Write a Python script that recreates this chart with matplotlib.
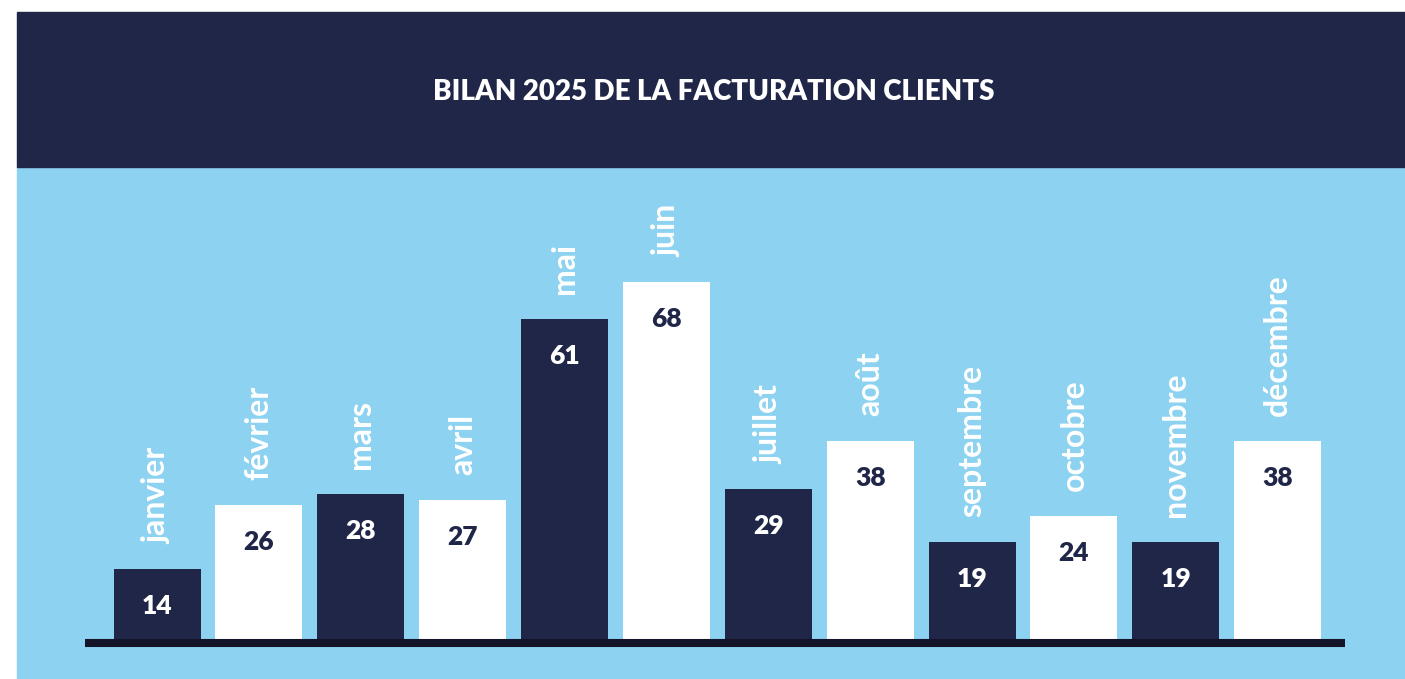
import matplotlib
matplotlib.use("Agg")
import matplotlib.pyplot as plt
from matplotlib.patches import Rectangle

# --- data ---
months = ["janvier", "février", "mars", "avril", "mai", "juin",
          "juillet", "août", "septembre", "octobre", "novembre", "décembre"]
values = [14, 26, 28, 27, 61, 68, 29, 38, 19, 24, 19, 38]
title = "BILAN 2025 DE LA FACTURATION CLIENTS"

NAVY = "#1f2648"
SKY = "#8dd2f0"
INK = "#13142a"
FONT = ["Lato", "DejaVu Sans"]

W, H = 1405, 679
fig = plt.figure(figsize=(W / 100, H / 100), dpi=100)

# background: navy header band + light blue plot area (behind the axes)
fig.patches.append(Rectangle((17 / W, 0), 1 - 17 / W, (H - 167) / H,
                             transform=fig.transFigure, color=SKY, zorder=-2))
fig.patches.append(Rectangle((17 / W, (H - 167) / H), 1 - 17 / W, (167 - 12) / H,
                             transform=fig.transFigure, color=NAVY, zorder=-2))
fig.text(714 / W, 1 - 92 / H, title, ha="center", va="center",
         color="white", fontsize=20, fontweight="heavy", family=FONT)

# --- bars ---
ax = fig.add_axes([85 / W, 0, 1260 / W, (H - 167) / H])
ax.set_facecolor("none")
x = list(range(len(values)))
colors = [NAVY if i % 2 == 0 else "white" for i in x]
ax.bar(x, values, width=0.854, color=colors, zorder=2)
ax.axhline(0, color=INK, lw=5.8, solid_capstyle="butt", zorder=3)

for i, (m, v) in enumerate(zip(months, values)):
    txt_col = "white" if i % 2 == 0 else NAVY
    ax.annotate(str(v), (i, v), xytext=(0, -37), textcoords="offset pixels",
                ha="center", va="center", color=txt_col, fontsize=19,
                fontweight="heavy", family=FONT, zorder=4)
    ax.annotate(m, (i, v), xytext=(0, 25), textcoords="offset pixels",
                ha="center", va="bottom", rotation=90, color="white",
                fontsize=23, fontweight="bold", family=FONT, zorder=4)

ax.set_xlim(-0.707, 11.66)
ax.set_ylim(-36 / 5.31, 476 / 5.31)
ax.axis("off")

fig.savefig("out.png", dpi=100)
